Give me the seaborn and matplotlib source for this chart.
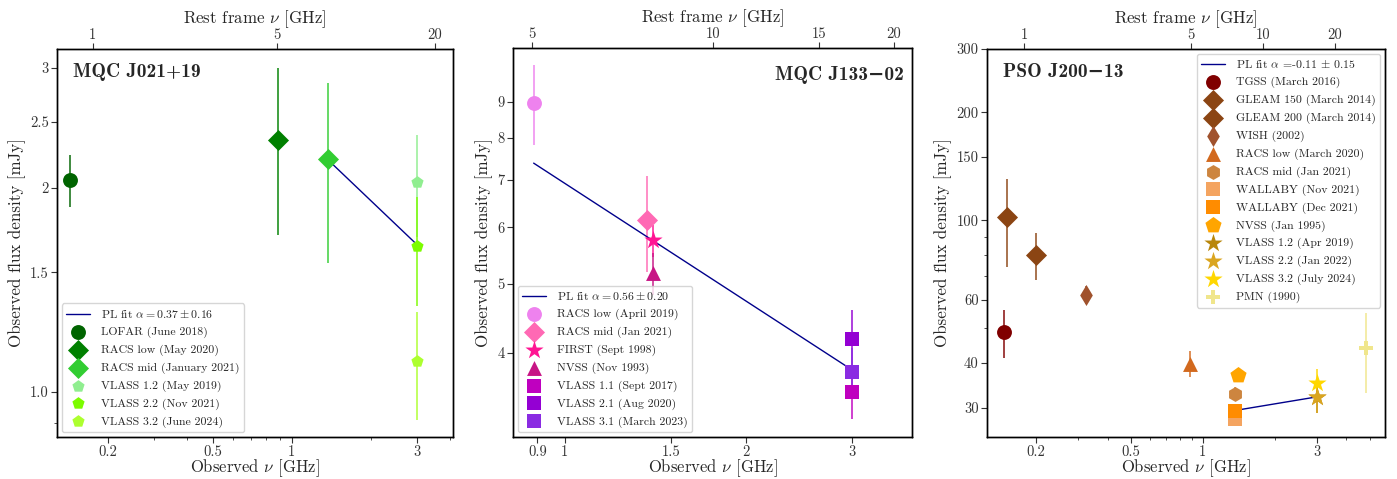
import numpy as np
import matplotlib
matplotlib.use("Agg")
import matplotlib.pyplot as plt
import matplotlib.ticker as mticker
import seaborn as sns

# ---------------- data ----------------
# Panel 1: MQC J021+19
p1_name = "MQC J021+19"
p1_restfac = 5.71
p1_labels = ["LOFAR (June 2018)", "RACS low (May 2020)", "RACS mid (January 2021)",
             "VLASS 1.2 (May 2019)", "VLASS 2.2 (Nov 2021)", "VLASS 3.2 (June 2024)"]
p1_nu = [0.144, 0.8875, 1.3675, 3.0, 3.0, 3.0]
p1_flux = [2.05, 2.35, 2.20, 2.04, 1.64, 1.11]
p1_err = [0.18, 0.65, 0.65, 0.35, 0.30, 0.20]
p1_fit_nu = [1.3675, 3.0]
p1_fit_flux = [2.20, 1.646]
p1_fit_label = r"PL fit $\alpha = 0.37 \pm 0.16$"

# Panel 2: MQC J133-02
p2_name = "MQC J133\u221202"
p2_restfac = 5.67
p2_labels = ["RACS low (April 2019)", "RACS mid (Jan 2021)", "FIRST (Sept 1998)",
             "NVSS (Nov 1993)", "VLASS 1.1 (Sept 2017)", "VLASS 2.1 (Aug 2020)",
             "VLASS 3.1 (March 2023)"]
p2_nu = [0.8875, 1.3675, 1.4, 1.4, 3.0, 3.0, 3.0]
p2_flux = [8.97, 6.14, 5.75, 5.17, 3.53, 4.19, 3.76]
p2_err = [1.15, 0.95, 0.30, 0.35, 0.30, 0.40, 0.30]
p2_fit_nu = [0.8875, 3.0]
p2_fit_flux = [7.38, 3.79]
p2_fit_label = r"PL fit $\alpha = 0.56 \pm 0.20$"

# Panel 3: PSO J200-13
p3_name = "PSO J200\u221213"
p3_restfac = 5.59
p3_labels = ["TGSS (March 2016)", "GLEAM 150 (March 2014)", "GLEAM 200 (March 2014)",
             "WISH (2002)", "RACS low (March 2020)", "RACS mid (Jan 2021)",
             "WALLABY (Nov 2021)", "WALLABY (Dec 2021)", "NVSS (Jan 1995)",
             "VLASS 1.2 (Apr 2019)", "VLASS 2.2 (Jan 2022)", "VLASS 3.2 (July 2024)",
             "PMN (1990)"]
p3_nu = [0.1475, 0.151, 0.200, 0.325, 0.8875, 1.3675, 1.37, 1.37, 1.4,
         3.0, 3.0, 3.0, 4.85]
p3_flux = [48.7, 102.0, 80.0, 62.0, 39.8, 32.9, 28.0, 29.4, 37.0,
           32.1, 32.1, 35.1, 44.0]
p3_err = [7.4, 28.0, 12.0, 3.5, 3.3, 1.5, 1.3, 1.3, 1.2,
          3.0, 3.0, 3.5, 11.0]
p3_fit_nu = [1.4, 3.0]
p3_fit_flux = [29.6, 32.2]
p3_fit_label = r"PL fit $\alpha$ =-0.11 $\pm$ 0.15"

# ---------------- styles ----------------
p1_colors = ["#006400", "#008000", "#32CD32", "#90EE90", "#7CFC00", "#ADFF2F"]
p1_markers = ["o", "D", "D", "p", "p", "p"]
p2_colors = ["#EE82EE", "#FF69B4", "#FF1493", "#C71585", "#BF00BF", "#9400D3", "#8A2BE2"]
p2_markers = ["o", "D", "*", "^", "s", "s", "s"]
p3_colors = ["#800000", "#8B4513", "#8B4513", "#A0522D", "#D2691E", "#CD853F",
             "#F4A460", "#FF8C00", "#FFA500", "#B8860B", "#DAA520", "#FFD700", "#F0E68C"]
p3_markers = ["o", "D", "D", "d", "^", "h", "s", "s", "p", "*", "*", "*", "P"]

sns.set_style("ticks")
plt.rcParams.update({
    "font.family": ["cmr10", "DejaVu Serif"],
    "mathtext.fontset": "cm",
    "axes.unicode_minus": False,
    "axes.formatter.use_mathtext": True,
    "xtick.direction": "out",
    "ytick.direction": "out",
    "axes.linewidth": 1.0,
    "axes.edgecolor": "black",
    "xtick.color": "#333333",
    "ytick.color": "#333333",
})

fig = plt.figure(figsize=(13.97, 4.79), dpi=100)
W, H = 1397.0, 479.0


def make_ax(left, right, top, bottom):
    return fig.add_axes([left / W, 1 - bottom / H, (right - left) / W, (bottom - top) / H])


def draw_panel(ax, labels, nu, flux, err, colors, markers, fit_nu, fit_flux, fit_label,
               psize=85):
    sns.lineplot(x=fit_nu, y=fit_flux, ax=ax, color="darkblue", lw=1.0,
                 label=fit_label, zorder=2)
    for lab, x, y, e, c, m in zip(labels, nu, flux, err, colors, markers):
        ax.errorbar([x], [y], yerr=[e], fmt="none", ecolor=c, elinewidth=1.4,
                    alpha=0.75, zorder=1)
        size = 190 if m == "*" else (psize if m == "p" else 115)
        sns.scatterplot(x=[x], y=[y], ax=ax, marker=m, color=c, s=size,
                        linewidth=0, label=lab, zorder=3)


def style_ax(ax, xlim, ylim, xticks, xticklabels, yticks, yticklabels, restfac,
             topticks, minor=True):
    ax.set_xscale("log")
    ax.set_yscale("log")
    ax.set_xlim(*xlim)
    ax.set_ylim(*ylim)
    ax.set_xticks(xticks)
    ax.set_xticklabels(xticklabels)
    ax.set_yticks(yticks)
    ax.set_yticklabels(yticklabels)
    ax.xaxis.set_minor_formatter(mticker.NullFormatter())
    ax.yaxis.set_minor_formatter(mticker.NullFormatter())
    if not minor:
        ax.xaxis.set_minor_locator(mticker.NullLocator())
        ax.yaxis.set_minor_locator(mticker.NullLocator())
    ax.tick_params(labelsize=10.5, length=4, width=0.8, pad=2)
    ax.tick_params(which="minor", length=2.5, width=0.6)
    ax.set_xlabel(r"Observed $\nu$ [GHz]", fontsize=12, labelpad=-1.5)
    ax.set_ylabel("Observed flux density [mJy]", fontsize=12.2, labelpad=3)
    for s in ax.spines.values():
        s.set_visible(True)
        s.set_color("black")
    top = ax.twiny()
    top.set_xscale("log")
    top.set_xlim(xlim[0] * restfac, xlim[1] * restfac)
    top.set_xticks(topticks)
    top.set_xticklabels([str(t) for t in topticks])
    top.xaxis.set_minor_locator(mticker.NullLocator())
    top.tick_params(labelsize=10.5, length=4, width=0.8, pad=1)
    top.set_xlabel(r"Rest frame $\nu$ [GHz]", fontsize=12.2, labelpad=4)
    return top


leg_kw = dict(fontsize=8.5, frameon=True, borderaxespad=0.4,
              handletextpad=0.9, labelspacing=0.55)

# Panel 1
ax1 = make_ax(57, 453, 49, 437)
draw_panel(ax1, p1_labels, p1_nu, p1_flux, p1_err, p1_colors, p1_markers,
           p1_fit_nu, p1_fit_flux, p1_fit_label)
style_ax(ax1, (0.128, 4.1), (0.858, 3.2), [0.2, 0.5, 1, 3], ["0.2", "0.5", "1", "3"],
         [1.0, 1.5, 2, 2.5, 3], ["1.0", "1.5", "2", "2.5", "3"], p1_restfac, [1, 5, 20])
ax1.legend(loc="lower left", **leg_kw)
ax1.text(0.04, 0.965, p1_name, transform=ax1.transAxes, ha="left", va="top",
         fontsize=14, fontweight="bold", family=["cmb10", "DejaVu Serif"])

# Panel 2
ax2 = make_ax(513, 912, 48, 437)
draw_panel(ax2, p2_labels, p2_nu, p2_flux, p2_err, p2_colors, p2_markers,
           p2_fit_nu, p2_fit_flux, p2_fit_label)
style_ax(ax2, (0.82, 3.78), (3.05, 10.7), [0.9, 1, 1.5, 2, 3], ["0.9", "1", "1.5", "2", "3"],
         [4, 5, 6, 7, 8, 9], ["4", "5", "6", "7", "8", "9"], p2_restfac, [5, 10, 15, 20],
         minor=False)
ax2.legend(loc="lower left", **leg_kw)
ax2.text(0.98, 0.955, p2_name, transform=ax2.transAxes, ha="right", va="top",
         fontsize=14, fontweight="bold", family=["cmb10", "DejaVu Serif"])

# Panel 3
ax3 = make_ax(987, 1385, 49, 437)
draw_panel(ax3, p3_labels, p3_nu, p3_flux, p3_err, p3_colors, p3_markers,
           p3_fit_nu, p3_fit_flux, p3_fit_label, psize=150)
style_ax(ax3, (0.125, 5.8), (24.9, 300), [0.2, 0.5, 1, 3], ["0.2", "0.5", "1", "3"],
         [30, 40, 60, 100, 150, 200, 300], ["30", "40", "60", "100", "150", "200", "300"],
         p3_restfac, [1, 5, 10, 20])
ax3.legend(loc="upper right", **leg_kw)
ax3.text(0.04, 0.965, p3_name, transform=ax3.transAxes, ha="left", va="top",
         fontsize=14, fontweight="bold", family=["cmb10", "DejaVu Serif"])

fig.savefig("out.png", dpi=100)
